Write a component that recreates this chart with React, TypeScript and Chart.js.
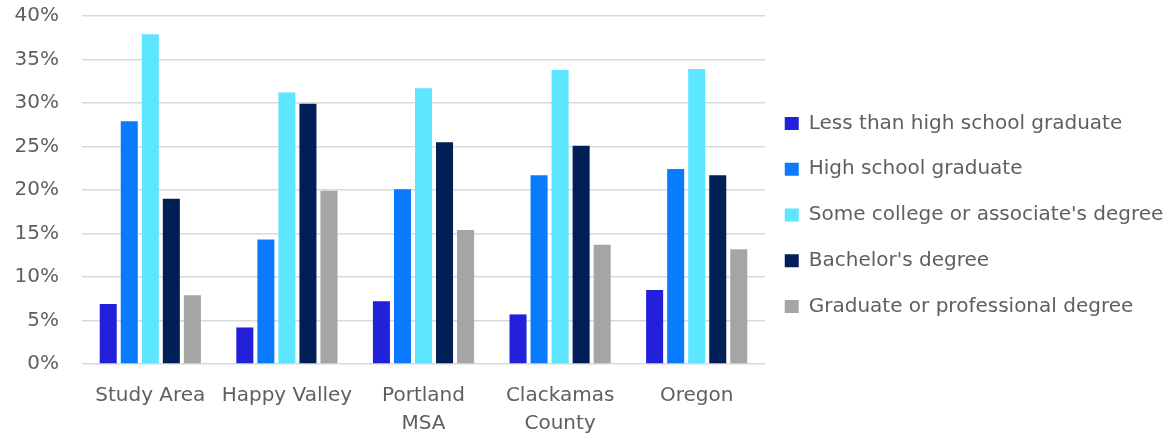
import React, { useEffect, useRef } from "react";
import { Chart, registerables } from "chart.js";

Chart.register(...registerables);

// Educational attainment by geography (share of population 25+)
const categories: (string | string[])[] = [
  "Study Area",
  "Happy Valley",
  ["Portland", "MSA"],
  ["Clackamas", "County"],
  "Oregon",
];

const lessThanHighSchool = [6.9, 4.2, 7.2, 5.7, 8.5];
const highSchoolGraduate = [27.9, 14.3, 20.1, 21.7, 22.4];
const someCollege = [37.9, 31.2, 31.7, 33.8, 33.9];
const bachelors = [19.0, 29.9, 25.5, 25.1, 21.7];
const graduateProfessional = [7.9, 19.9, 15.4, 13.7, 13.2];

const seriesLabels = [
  "Less than high school graduate",
  "High school graduate",
  "Some college or associate's degree",
  "Bachelor's degree",
  "Graduate or professional degree",
];
const seriesColors = ["#2320DA", "#0A7BFF", "#5CE6FF", "#001F56", "#A5A5A5"];

const yTicks = [0, 5, 10, 15, 20, 25, 30, 35, 40];

const TEXT_COLOR = "#5f5f5f";
const FONT_FAMILY = "'DejaVu Sans', sans-serif";

// Nudges the legend block after layout so it sits closer to the plot and a bit higher.
const legendOffset = {
  id: "legendOffset",
  afterLayout(chart: any) {
    const lg = chart.legend;
    if (!lg) return;
    const dx = -6;
    const dy = -13.5;
    lg.left += dx;
    lg.right += dx;
    lg.top += dy;
    lg.bottom += dy;
  },
};

export default function App() {
  const canvasRef = useRef<HTMLCanvasElement | null>(null);

  useEffect(() => {
    if (!canvasRef.current) return;
    const seriesValues = [
      lessThanHighSchool,
      highSchoolGraduate,
      someCollege,
      bachelors,
      graduateProfessional,
    ];
    const chart = new Chart(canvasRef.current, {
      type: "bar",
      data: {
        labels: categories,
        datasets: seriesValues.map((values, i) => ({
          label: seriesLabels[i],
          data: values,
          backgroundColor: seriesColors[i],
          borderWidth: 0,
          categoryPercentage: 0.77,
          barPercentage: 0.81,
        })),
      },
      plugins: [legendOffset],
      options: {
        responsive: false,
        animation: false,
        layout: { padding: { top: 16, bottom: 0, left: 0, right: 0 } },
        plugins: {
          tooltip: { enabled: false },
          legend: {
            position: "right",
            align: "center",
            maxWidth: 408,
            labels: {
              boxWidth: 14,
              boxHeight: 13,
              padding: 25.75,
              color: TEXT_COLOR,
              font: { family: FONT_FAMILY, size: 20 },
            },
          },
        },
        scales: {
          x: {
            grid: { display: false, drawTicks: false },
            border: { display: false },
            ticks: {
              color: TEXT_COLOR,
              font: { family: FONT_FAMILY, size: 20, lineHeight: 1.4 },
              padding: 18,
              maxRotation: 0,
              autoSkip: false,
            },
            afterFit: (scale: any) => {
              scale.height = 77;
            },
          },
          y: {
            min: 0,
            max: 40,
            afterBuildTicks: (scale: any) => {
              scale.ticks = yTicks.map((v) => ({ value: v }));
            },
            grid: { color: "#D9D9D9", lineWidth: 1.5, drawTicks: false },
            border: { display: false },
            ticks: {
              color: TEXT_COLOR,
              font: { family: FONT_FAMILY, size: 20 },
              padding: 23,
              callback: (v: any) => `${v}%`,
            },
            afterFit: (scale: any) => {
              scale.width = 82;
              scale.paddingTop = 0;
              scale.paddingBottom = 0;
            },
          },
        },
      },
    });
    return () => chart.destroy();
  }, []);

  return (
    <div style={{ position: "absolute", left: 0, top: 0, width: 1173, height: 441, background: "#fff" }}>
      <canvas ref={canvasRef} width={1173} height={441} />
    </div>
  );
}
